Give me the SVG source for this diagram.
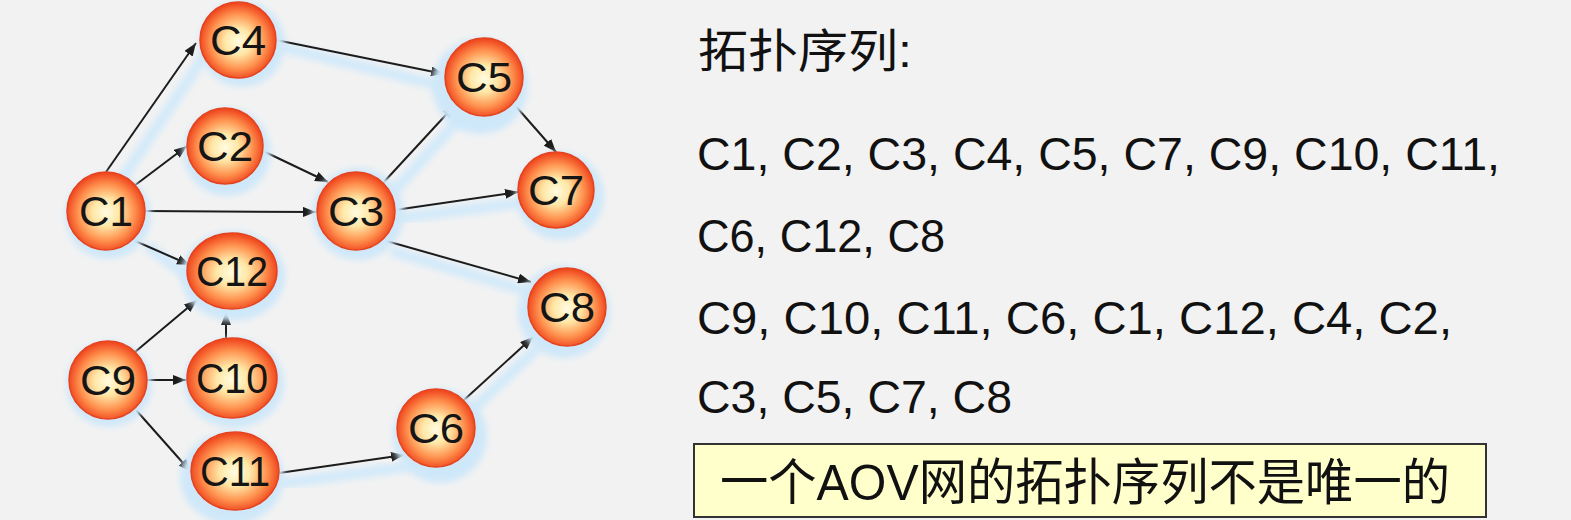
<svg xmlns="http://www.w3.org/2000/svg" width="1571" height="520" viewBox="0 0 1571 520">
<style>
.node{fill:url(#ball);stroke:#e5431f;stroke-width:1.5}
.halo{fill:#cfe8f9;filter:url(#soft)}
.lbl{font-family:"Liberation Sans",Arial,sans-serif;font-size:42px;fill:#151515;text-anchor:middle}
.edge{stroke:#1c1c1c;stroke-width:2;fill:none;marker-end:url(#arr)}
.eshadow{stroke:#d3eafa;stroke-width:11;fill:none;stroke-linecap:round;filter:url(#soft)}
.seq{font-family:"Liberation Sans",Arial,sans-serif;font-size:47px;fill:#111}
.cjk{font-family:"Liberation Sans","Noto Sans CJK SC",sans-serif;fill:#111}
</style>
<defs>
<radialGradient id="ball" cx="50%" cy="52%" r="50%" fx="50%" fy="52%">
<stop offset="0" stop-color="#fffce2"/>
<stop offset="0.35" stop-color="#ffe7a6"/>
<stop offset="0.72" stop-color="#ff9350"/>
<stop offset="1" stop-color="#f04a20"/>
</radialGradient>
<filter id="soft" x="-30%" y="-30%" width="160%" height="160%">
<feGaussianBlur stdDeviation="3"/>
</filter>
<marker id="arr" markerWidth="14" markerHeight="10" refX="13" refY="5" orient="auto" markerUnits="userSpaceOnUse">
<path d="M0,0 L13,5 L0,10 z" fill="#1c1c1c"/>
</marker>
</defs>
<rect x="0" y="0" width="1571" height="520" fill="#f2f2f2"/>

<g id="shadows">
<line class="eshadow" x1="118" y1="185" x2="205" y2="55"/>
<line class="eshadow" x1="285" y1="48" x2="450" y2="88"/>
<line class="eshadow" x1="150" y1="248" x2="190" y2="278"/>
<line class="eshadow" x1="400" y1="218" x2="520" y2="203"/>
<line class="eshadow" x1="395" y1="252" x2="530" y2="292"/>
<line class="eshadow" x1="285" y1="483" x2="405" y2="467"/>
<line class="eshadow" x1="470" y1="412" x2="535" y2="350"/>
<line class="eshadow" x1="395" y1="190" x2="460" y2="118"/>
</g>

<g id="connectors">
<line class="edge" x1="106" y1="172" x2="196" y2="43"/>
<line class="edge" x1="134" y1="186" x2="187" y2="146"/>
<line class="edge" x1="145" y1="211" x2="316" y2="212"/>
<line class="edge" x1="133" y1="240" x2="190" y2="265"/>
<line class="edge" x1="276" y1="40" x2="444" y2="74"/>
<line class="edge" x1="263" y1="151" x2="328" y2="182"/>
<line class="edge" x1="383" y1="183" x2="455" y2="105"/>
<line class="edge" x1="395" y1="210" x2="518" y2="192"/>
<line class="edge" x1="383" y1="240" x2="531" y2="282"/>
<line class="edge" x1="513" y1="103" x2="556" y2="152"/>
<line class="edge" x1="135" y1="352" x2="197" y2="300"/>
<line class="edge" x1="147" y1="380" x2="186" y2="380"/>
<line class="edge" x1="136" y1="410" x2="191" y2="472"/>
<line class="edge" x1="226" y1="338" x2="226" y2="312"/>
<line class="edge" x1="279" y1="473" x2="404" y2="455"/>
<line class="edge" x1="464" y1="400" x2="533" y2="337"/>
</g>

<g id="C4"><circle class="halo" cx="242" cy="44" r="43"/><circle class="node" cx="238" cy="40" r="38"/><text class="lbl" x="238" y="55" textLength="56" lengthAdjust="spacingAndGlyphs">C4</text></g>
<g id="C5"><circle class="halo" cx="480" cy="86" r="48"/><circle class="node" cx="484" cy="77" r="39"/><text class="lbl" x="484" y="92" textLength="56" lengthAdjust="spacingAndGlyphs">C5</text></g>
<g id="C2"><circle class="halo" cx="227" cy="152" r="44"/><circle class="node" cx="225" cy="146" r="38"/><text class="lbl" x="225" y="161" textLength="56" lengthAdjust="spacingAndGlyphs">C2</text></g>
<g id="C1"><circle class="halo" cx="108" cy="216" r="43"/><circle class="node" cx="106" cy="211" r="39"/><text class="lbl" x="106" y="226" textLength="54" lengthAdjust="spacingAndGlyphs">C1</text></g>
<g id="C3"><circle class="halo" cx="358" cy="214" r="46"/><circle class="node" cx="356" cy="211" r="39"/><text class="lbl" x="356" y="226" textLength="56" lengthAdjust="spacingAndGlyphs">C3</text></g>
<g id="C7"><circle class="halo" cx="560" cy="196" r="44"/><circle class="node" cx="556" cy="190" r="38"/><text class="lbl" x="556" y="205" textLength="56" lengthAdjust="spacingAndGlyphs">C7</text></g>
<g id="C12"><ellipse class="halo" cx="233" cy="276" rx="52" ry="45"/><ellipse class="node" cx="232" cy="271" rx="45" ry="38"/><text class="lbl" x="232" y="286" textLength="72" lengthAdjust="spacingAndGlyphs">C12</text></g>
<g id="C8"><circle class="halo" cx="564" cy="312" r="46"/><circle class="node" cx="567" cy="307" r="39"/><text class="lbl" x="567" y="322" textLength="56" lengthAdjust="spacingAndGlyphs">C8</text></g>
<g id="C9"><circle class="halo" cx="109" cy="384" r="43"/><circle class="node" cx="108" cy="380" r="39"/><text class="lbl" x="108" y="395" textLength="56" lengthAdjust="spacingAndGlyphs">C9</text></g>
<g id="C10"><ellipse class="halo" cx="234" cy="383" rx="50" ry="45"/><ellipse class="node" cx="232" cy="378" rx="45" ry="40"/><text class="lbl" x="232" y="393" textLength="72" lengthAdjust="spacingAndGlyphs">C10</text></g>
<g id="C11"><ellipse class="halo" cx="232" cy="478" rx="52" ry="46"/><ellipse class="node" cx="235" cy="471" rx="44" ry="39"/><text class="lbl" x="235" y="486" textLength="70" lengthAdjust="spacingAndGlyphs">C11</text></g>
<g id="C6"><circle class="halo" cx="440" cy="436" r="47"/><circle class="node" cx="436" cy="428" r="39"/><text class="lbl" x="436" y="443" textLength="56" lengthAdjust="spacingAndGlyphs">C6</text></g>

<g id="text">
<text class="cjk" x="698" y="67" font-size="46" textLength="214" lengthAdjust="spacingAndGlyphs">拓扑序列:</text>
<text class="seq" x="697" y="170" textLength="803" lengthAdjust="spacingAndGlyphs">C1, C2, C3, C4, C5, C7, C9, C10,  C11,</text>
<text class="seq" x="697" y="252" textLength="248" lengthAdjust="spacingAndGlyphs">C6, C12, C8</text>
<text class="seq" x="697" y="334" textLength="755" lengthAdjust="spacingAndGlyphs">C9, C10, C11, C6, C1, C12, C4, C2,</text>
<text class="seq" x="697" y="413" textLength="315" lengthAdjust="spacingAndGlyphs">C3, C5, C7, C8</text>
</g>

<g id="note">
<rect x="694" y="444" width="792" height="73" fill="#ffffcc" stroke="#333" stroke-width="2"/>
<text class="cjk" x="720" y="500" font-size="50" textLength="730" lengthAdjust="spacingAndGlyphs">一个AOV网的拓扑序列不是唯一的</text>
</g>
</svg>
